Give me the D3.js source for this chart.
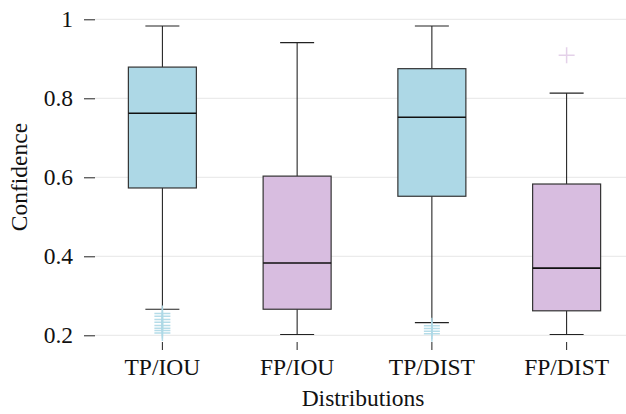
<!DOCTYPE html>
<html>
<head>
<meta charset="utf-8">
<script src="https://cdn.jsdelivr.net/npm/d3@7"></script>
<style>
  body { margin: 0; background: #fff; }
  svg text { font-family: "Times New Roman", "Liberation Serif", Tinos, "DejaVu Serif", serif !important; }
</style>
</head>
<body>
<svg id="chart" width="626" height="414"></svg>
<script>
// box statistics
const categories = ["TP/IOU", "FP/IOU", "TP/DIST", "FP/DIST"];
const whiskerLow  = [0.266, 0.202, 0.232, 0.202];
const q1          = [0.573, 0.266, 0.552, 0.262];
const medians     = [0.762, 0.383, 0.752, 0.370];
const q3          = [0.879, 0.603, 0.875, 0.583];
const whiskerHigh = [0.983, 0.941, 0.983, 0.813];
const outliers = [
  [0.255, 0.248, 0.240, 0.233, 0.225, 0.218, 0.212, 0.206],
  [],
  [0.224, 0.217, 0.210, 0.204],
  [0.909]
];
const fills = ["#add8e6", "#d8bde0", "#add8e6", "#d8bde0"];
const yTicks = [0.2, 0.4, 0.6, 0.8, 1];

const fontSize = 23.5;
const svg = d3.select("#chart");

const y = d3.scaleLinear().domain([0.2, 1]).range([335.3, 19.3]);
const x = d3.scaleBand().domain(categories).range([95, 634]).padding(0);

// grid
svg.append("g")
  .selectAll("line")
  .data(yTicks)
  .join("line")
  .attr("x1", 95).attr("x2", 626)
  .attr("y1", d => y(d)).attr("y2", d => y(d))
  .attr("stroke", "#e6e6e6")
  .attr("stroke-width", 1);

// y axis
const yAxis = svg.append("g")
  .attr("transform", "translate(95,0)")
  .call(d3.axisLeft(y).tickValues(yTicks).tickSize(11).tickPadding(11)
    .tickFormat(d => d === 1 ? "1" : d3.format(".1f")(d)));
yAxis.select(".domain").remove();
yAxis.selectAll("line").attr("stroke", "#222");
yAxis.selectAll("text").attr("font-size", fontSize).attr("fill", "#111");

// x axis
const xAxis = svg.append("g")
  .attr("transform", "translate(0,342)")
  .call(d3.axisBottom(x).tickSize(8).tickPadding(8));
xAxis.select(".domain").remove();
xAxis.selectAll("line").attr("stroke", "#222");
xAxis.selectAll("text").attr("font-size", fontSize).attr("fill", "#111");

// boxes
const boxW = 68, capW = 34;
categories.forEach((c, i) => {
  const cx = x(c) + x.bandwidth() / 2;
  const g = svg.append("g");

  g.append("line")
    .attr("x1", cx).attr("x2", cx)
    .attr("y1", y(whiskerHigh[i])).attr("y2", y(q3[i]))
    .attr("stroke", "#111");
  g.append("line")
    .attr("x1", cx).attr("x2", cx)
    .attr("y1", y(q1[i])).attr("y2", y(whiskerLow[i]))
    .attr("stroke", "#111");
  [whiskerHigh[i], whiskerLow[i]].forEach(v => {
    g.append("line")
      .attr("x1", cx - capW / 2).attr("x2", cx + capW / 2)
      .attr("y1", y(v)).attr("y2", y(v))
      .attr("stroke", "#222").attr("stroke-width", 1.2);
  });

  g.append("rect")
    .attr("x", cx - boxW / 2)
    .attr("width", boxW)
    .attr("y", y(q3[i]))
    .attr("height", y(q1[i]) - y(q3[i]))
    .attr("fill", fills[i])
    .attr("stroke", "#333")
    .attr("stroke-width", 1.2);

  g.append("line")
    .attr("x1", cx - boxW / 2).attr("x2", cx + boxW / 2)
    .attr("y1", y(medians[i])).attr("y2", y(medians[i]))
    .attr("stroke", "#111")
    .attr("stroke-width", 1.6);

  // outliers as plus markers
  g.selectAll(".out")
    .data(outliers[i])
    .join("path")
    .attr("class", "out")
    .attr("d", d => `M${cx - 8},${y(d)}H${cx + 8}M${cx},${y(d) - 8}V${y(d) + 8}`)
    .attr("stroke", fills[i])
    .attr("stroke-width", 1.5)
    .attr("stroke-opacity", i === 3 ? 0.7 : 0.9)
    .attr("fill", "none");
});

// axis titles
svg.append("text")
  .attr("x", 363).attr("y", 406)
  .attr("text-anchor", "middle")
  .attr("font-size", fontSize)
  .attr("fill", "#111")
  .text("Distributions");

svg.append("text")
  .attr("transform", "translate(27,177) rotate(-90)")
  .attr("text-anchor", "middle")
  .attr("font-size", fontSize)
  .attr("fill", "#111")
  .text("Confidence");
</script>
</body>
</html>
